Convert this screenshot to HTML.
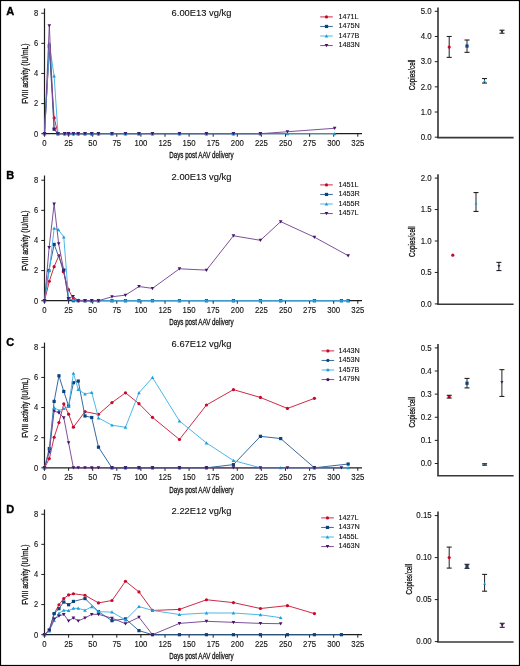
<!DOCTYPE html>
<html><head><meta charset="utf-8"><style>
html,body{margin:0;padding:0;background:#fff;}
body{width:520px;height:666px;position:relative;overflow:hidden;font-family:"Liberation Sans", sans-serif;}
svg{will-change:transform;font-family:"Liberation Sans", sans-serif;}
</style></head><body>
<svg width="520" height="666" viewBox="0 0 520 666" style="position:absolute;left:0;top:0">
<rect x="0" y="0" width="520" height="666" fill="#fff"/>
<text transform="translate(6.30,14.90)" font-weight="bold" font-size="11" fill="#000" stroke="#000" stroke-width="0.35">A</text>
<text transform="translate(171.60,15.90)" font-size="9.35" fill="#111" stroke="#111" stroke-width="0.12">6.00E13 vg/kg</text>
<line x1="44.5" y1="8.50" x2="44.5" y2="133.70" stroke="#1e1e1e" stroke-width="1.2"/>
<line x1="43.9" y1="133.70" x2="362.0" y2="133.70" stroke="#1e1e1e" stroke-width="1.3"/>
<line x1="41.3" y1="133.70" x2="44.5" y2="133.70" stroke="#1e1e1e" stroke-width="1"/>
<text transform="translate(38.30,136.60) scale(0.92,1)" text-anchor="end" font-size="8.2" fill="#111" stroke="#111" stroke-width="0.12">0</text>
<line x1="41.3" y1="103.58" x2="44.5" y2="103.58" stroke="#1e1e1e" stroke-width="1"/>
<text transform="translate(38.30,106.48) scale(0.92,1)" text-anchor="end" font-size="8.2" fill="#111" stroke="#111" stroke-width="0.12">2</text>
<line x1="41.3" y1="73.46" x2="44.5" y2="73.46" stroke="#1e1e1e" stroke-width="1"/>
<text transform="translate(38.30,76.36) scale(0.92,1)" text-anchor="end" font-size="8.2" fill="#111" stroke="#111" stroke-width="0.12">4</text>
<line x1="41.3" y1="43.34" x2="44.5" y2="43.34" stroke="#1e1e1e" stroke-width="1"/>
<text transform="translate(38.30,46.24) scale(0.92,1)" text-anchor="end" font-size="8.2" fill="#111" stroke="#111" stroke-width="0.12">6</text>
<line x1="41.3" y1="13.22" x2="44.5" y2="13.22" stroke="#1e1e1e" stroke-width="1"/>
<text transform="translate(38.30,16.12) scale(0.92,1)" text-anchor="end" font-size="8.2" fill="#111" stroke="#111" stroke-width="0.12">8</text>
<line x1="44.50" y1="133.70" x2="44.50" y2="136.70" stroke="#1e1e1e" stroke-width="1"/>
<text transform="translate(44.50,145.50) scale(0.94,1)" text-anchor="middle" font-size="8.3" fill="#111" stroke="#111" stroke-width="0.12">0</text>
<line x1="68.60" y1="133.70" x2="68.60" y2="136.70" stroke="#1e1e1e" stroke-width="1"/>
<text transform="translate(68.60,145.50) scale(0.94,1)" text-anchor="middle" font-size="8.3" fill="#111" stroke="#111" stroke-width="0.12">25</text>
<line x1="92.70" y1="133.70" x2="92.70" y2="136.70" stroke="#1e1e1e" stroke-width="1"/>
<text transform="translate(92.70,145.50) scale(0.94,1)" text-anchor="middle" font-size="8.3" fill="#111" stroke="#111" stroke-width="0.12">50</text>
<line x1="116.80" y1="133.70" x2="116.80" y2="136.70" stroke="#1e1e1e" stroke-width="1"/>
<text transform="translate(116.80,145.50) scale(0.94,1)" text-anchor="middle" font-size="8.3" fill="#111" stroke="#111" stroke-width="0.12">75</text>
<line x1="140.90" y1="133.70" x2="140.90" y2="136.70" stroke="#1e1e1e" stroke-width="1"/>
<text transform="translate(140.90,145.50) scale(0.94,1)" text-anchor="middle" font-size="8.3" fill="#111" stroke="#111" stroke-width="0.12">100</text>
<line x1="165.00" y1="133.70" x2="165.00" y2="136.70" stroke="#1e1e1e" stroke-width="1"/>
<text transform="translate(165.00,145.50) scale(0.94,1)" text-anchor="middle" font-size="8.3" fill="#111" stroke="#111" stroke-width="0.12">125</text>
<line x1="189.10" y1="133.70" x2="189.10" y2="136.70" stroke="#1e1e1e" stroke-width="1"/>
<text transform="translate(189.10,145.50) scale(0.94,1)" text-anchor="middle" font-size="8.3" fill="#111" stroke="#111" stroke-width="0.12">150</text>
<line x1="213.20" y1="133.70" x2="213.20" y2="136.70" stroke="#1e1e1e" stroke-width="1"/>
<text transform="translate(213.20,145.50) scale(0.94,1)" text-anchor="middle" font-size="8.3" fill="#111" stroke="#111" stroke-width="0.12">175</text>
<line x1="237.30" y1="133.70" x2="237.30" y2="136.70" stroke="#1e1e1e" stroke-width="1"/>
<text transform="translate(237.30,145.50) scale(0.94,1)" text-anchor="middle" font-size="8.3" fill="#111" stroke="#111" stroke-width="0.12">200</text>
<line x1="261.40" y1="133.70" x2="261.40" y2="136.70" stroke="#1e1e1e" stroke-width="1"/>
<text transform="translate(261.40,145.50) scale(0.94,1)" text-anchor="middle" font-size="8.3" fill="#111" stroke="#111" stroke-width="0.12">225</text>
<line x1="285.50" y1="133.70" x2="285.50" y2="136.70" stroke="#1e1e1e" stroke-width="1"/>
<text transform="translate(285.50,145.50) scale(0.94,1)" text-anchor="middle" font-size="8.3" fill="#111" stroke="#111" stroke-width="0.12">250</text>
<line x1="309.60" y1="133.70" x2="309.60" y2="136.70" stroke="#1e1e1e" stroke-width="1"/>
<text transform="translate(309.60,145.50) scale(0.94,1)" text-anchor="middle" font-size="8.3" fill="#111" stroke="#111" stroke-width="0.12">275</text>
<line x1="333.70" y1="133.70" x2="333.70" y2="136.70" stroke="#1e1e1e" stroke-width="1"/>
<text transform="translate(333.70,145.50) scale(0.94,1)" text-anchor="middle" font-size="8.3" fill="#111" stroke="#111" stroke-width="0.12">300</text>
<line x1="357.80" y1="133.70" x2="357.80" y2="136.70" stroke="#1e1e1e" stroke-width="1"/>
<text transform="translate(357.80,145.50) scale(0.94,1)" text-anchor="middle" font-size="8.3" fill="#111" stroke="#111" stroke-width="0.12">325</text>
<text transform="translate(27.80,103.70) rotate(-90) scale(0.73,1)" font-size="9.1" fill="#111" stroke="#111" stroke-width="0.3">FVIII activity (IU/mL)</text>
<text transform="translate(169.20,158.40) scale(0.686,1)" font-size="9.1" fill="#111" stroke="#111" stroke-width="0.3">Days post AAV delivery</text>
<path d="M44.50,133.70 L49.32,47.86 L54.14,117.89 L58.00,133.70 L64.74,133.70 L68.60,133.70 L73.42,133.70 L78.24,133.70 L84.99,133.70 L91.74,133.70 L98.48,133.70" fill="none" stroke="#cc1f3f" stroke-width="0.95" stroke-linejoin="round"/>
<circle cx="44.50" cy="133.70" r="1.60" fill="#c6082a"/>
<circle cx="49.32" cy="47.86" r="1.60" fill="#c6082a"/>
<circle cx="54.14" cy="117.89" r="1.60" fill="#c6082a"/>
<circle cx="58.00" cy="133.70" r="1.60" fill="#c6082a"/>
<circle cx="64.74" cy="133.70" r="1.60" fill="#c6082a"/>
<circle cx="68.60" cy="133.70" r="1.60" fill="#c6082a"/>
<circle cx="73.42" cy="133.70" r="1.60" fill="#c6082a"/>
<circle cx="78.24" cy="133.70" r="1.60" fill="#c6082a"/>
<circle cx="84.99" cy="133.70" r="1.60" fill="#c6082a"/>
<circle cx="91.74" cy="133.70" r="1.60" fill="#c6082a"/>
<circle cx="98.48" cy="133.70" r="1.60" fill="#c6082a"/>
<path d="M44.50,133.70 L49.32,45.75 L54.14,129.18 L58.00,133.70 L64.74,133.70 L68.60,133.70 L73.42,133.70 L78.24,133.70 L84.99,133.70 L91.74,133.70 L98.48,133.70 L111.98,133.70 L125.48,133.70 L138.97,133.70 L152.47,133.70 L179.46,133.70 L206.45,133.70 L233.44,133.70 L260.44,133.70" fill="none" stroke="#2c6299" stroke-width="0.95" stroke-linejoin="round"/>
<rect x="42.90" y="132.10" width="3.20" height="3.20" fill="#0a4280"/>
<rect x="47.72" y="44.15" width="3.20" height="3.20" fill="#0a4280"/>
<rect x="52.54" y="127.58" width="3.20" height="3.20" fill="#0a4280"/>
<rect x="56.40" y="132.10" width="3.20" height="3.20" fill="#0a4280"/>
<rect x="63.14" y="132.10" width="3.20" height="3.20" fill="#0a4280"/>
<rect x="67.00" y="132.10" width="3.20" height="3.20" fill="#0a4280"/>
<rect x="71.82" y="132.10" width="3.20" height="3.20" fill="#0a4280"/>
<rect x="76.64" y="132.10" width="3.20" height="3.20" fill="#0a4280"/>
<rect x="83.39" y="132.10" width="3.20" height="3.20" fill="#0a4280"/>
<rect x="90.14" y="132.10" width="3.20" height="3.20" fill="#0a4280"/>
<rect x="96.88" y="132.10" width="3.20" height="3.20" fill="#0a4280"/>
<rect x="110.38" y="132.10" width="3.20" height="3.20" fill="#0a4280"/>
<rect x="123.88" y="132.10" width="3.20" height="3.20" fill="#0a4280"/>
<rect x="137.37" y="132.10" width="3.20" height="3.20" fill="#0a4280"/>
<rect x="150.87" y="132.10" width="3.20" height="3.20" fill="#0a4280"/>
<rect x="177.86" y="132.10" width="3.20" height="3.20" fill="#0a4280"/>
<rect x="204.85" y="132.10" width="3.20" height="3.20" fill="#0a4280"/>
<rect x="231.84" y="132.10" width="3.20" height="3.20" fill="#0a4280"/>
<rect x="258.84" y="132.10" width="3.20" height="3.20" fill="#0a4280"/>
<path d="M44.50,133.70 L49.32,43.79 L54.14,76.17 L58.00,133.70 L64.74,133.70 L68.60,133.70 L73.42,133.70 L78.24,133.70 L84.99,133.70 L91.74,133.70 L98.48,133.70 L111.98,133.70 L125.48,133.70 L138.97,133.70 L152.47,133.70 L179.46,133.70 L206.45,133.70 L233.44,133.70 L260.44,133.70 L287.43,133.70 L334.66,133.70" fill="none" stroke="#45b3e6" stroke-width="0.95" stroke-linejoin="round"/>
<path d="M44.50,131.90L46.30,135.14L42.70,135.14Z" fill="#199fdf"/>
<path d="M49.32,41.99L51.12,45.23L47.52,45.23Z" fill="#199fdf"/>
<path d="M54.14,74.37L55.94,77.61L52.34,77.61Z" fill="#199fdf"/>
<path d="M58.00,131.90L59.80,135.14L56.20,135.14Z" fill="#199fdf"/>
<path d="M64.74,131.90L66.54,135.14L62.94,135.14Z" fill="#199fdf"/>
<path d="M68.60,131.90L70.40,135.14L66.80,135.14Z" fill="#199fdf"/>
<path d="M73.42,131.90L75.22,135.14L71.62,135.14Z" fill="#199fdf"/>
<path d="M78.24,131.90L80.04,135.14L76.44,135.14Z" fill="#199fdf"/>
<path d="M84.99,131.90L86.79,135.14L83.19,135.14Z" fill="#199fdf"/>
<path d="M91.74,131.90L93.54,135.14L89.94,135.14Z" fill="#199fdf"/>
<path d="M98.48,131.90L100.28,135.14L96.68,135.14Z" fill="#199fdf"/>
<path d="M111.98,131.90L113.78,135.14L110.18,135.14Z" fill="#199fdf"/>
<path d="M125.48,131.90L127.28,135.14L123.68,135.14Z" fill="#199fdf"/>
<path d="M138.97,131.90L140.77,135.14L137.17,135.14Z" fill="#199fdf"/>
<path d="M152.47,131.90L154.27,135.14L150.67,135.14Z" fill="#199fdf"/>
<path d="M179.46,131.90L181.26,135.14L177.66,135.14Z" fill="#199fdf"/>
<path d="M206.45,131.90L208.25,135.14L204.65,135.14Z" fill="#199fdf"/>
<path d="M233.44,131.90L235.24,135.14L231.64,135.14Z" fill="#199fdf"/>
<path d="M260.44,131.90L262.24,135.14L258.64,135.14Z" fill="#199fdf"/>
<path d="M287.43,131.90L289.23,135.14L285.63,135.14Z" fill="#199fdf"/>
<path d="M334.66,131.90L336.46,135.14L332.86,135.14Z" fill="#199fdf"/>
<path d="M44.50,133.70 L49.32,25.72 L54.14,129.18 L58.00,133.70 L64.74,133.70 L68.60,133.70 L73.42,133.70 L78.24,133.70 L84.99,133.70 L91.74,133.70 L98.48,133.70 L111.98,133.70 L125.48,133.70 L138.97,133.70 L152.47,133.70 L179.46,133.70 L206.45,133.70 L233.44,133.70 L260.44,133.70 L287.43,131.74 L334.66,128.28" fill="none" stroke="#774893" stroke-width="0.95" stroke-linejoin="round"/>
<path d="M44.50,135.50L46.30,132.26L42.70,132.26Z" fill="#48126b"/>
<path d="M49.32,27.52L51.12,24.28L47.52,24.28Z" fill="#48126b"/>
<path d="M54.14,130.98L55.94,127.74L52.34,127.74Z" fill="#48126b"/>
<path d="M58.00,135.50L59.80,132.26L56.20,132.26Z" fill="#48126b"/>
<path d="M64.74,135.50L66.54,132.26L62.94,132.26Z" fill="#48126b"/>
<path d="M68.60,135.50L70.40,132.26L66.80,132.26Z" fill="#48126b"/>
<path d="M73.42,135.50L75.22,132.26L71.62,132.26Z" fill="#48126b"/>
<path d="M78.24,135.50L80.04,132.26L76.44,132.26Z" fill="#48126b"/>
<path d="M84.99,135.50L86.79,132.26L83.19,132.26Z" fill="#48126b"/>
<path d="M91.74,135.50L93.54,132.26L89.94,132.26Z" fill="#48126b"/>
<path d="M98.48,135.50L100.28,132.26L96.68,132.26Z" fill="#48126b"/>
<path d="M111.98,135.50L113.78,132.26L110.18,132.26Z" fill="#48126b"/>
<path d="M125.48,135.50L127.28,132.26L123.68,132.26Z" fill="#48126b"/>
<path d="M138.97,135.50L140.77,132.26L137.17,132.26Z" fill="#48126b"/>
<path d="M152.47,135.50L154.27,132.26L150.67,132.26Z" fill="#48126b"/>
<path d="M179.46,135.50L181.26,132.26L177.66,132.26Z" fill="#48126b"/>
<path d="M206.45,135.50L208.25,132.26L204.65,132.26Z" fill="#48126b"/>
<path d="M233.44,135.50L235.24,132.26L231.64,132.26Z" fill="#48126b"/>
<path d="M260.44,135.50L262.24,132.26L258.64,132.26Z" fill="#48126b"/>
<path d="M287.43,133.54L289.23,130.30L285.63,130.30Z" fill="#48126b"/>
<path d="M334.66,130.08L336.46,126.84L332.86,126.84Z" fill="#48126b"/>
<line x1="320.20" y1="16.90" x2="332.80" y2="16.90" stroke="#cc1f3f" stroke-width="0.95"/>
<circle cx="326.50" cy="16.90" r="1.60" fill="#c6082a"/>
<text transform="translate(338.40,18.60) scale(0.92,1)" font-size="7.9" fill="#111" stroke="#111" stroke-width="0.12">1471L</text>
<line x1="320.20" y1="26.45" x2="332.80" y2="26.45" stroke="#2c6299" stroke-width="0.95"/>
<rect x="324.90" y="24.85" width="3.20" height="3.20" fill="#0a4280"/>
<text transform="translate(338.40,28.15) scale(0.92,1)" font-size="7.9" fill="#111" stroke="#111" stroke-width="0.12">1475N</text>
<line x1="320.20" y1="36.00" x2="332.80" y2="36.00" stroke="#45b3e6" stroke-width="0.95"/>
<path d="M326.50,34.20L328.30,37.44L324.70,37.44Z" fill="#199fdf"/>
<text transform="translate(338.40,37.70) scale(0.92,1)" font-size="7.9" fill="#111" stroke="#111" stroke-width="0.12">1477B</text>
<line x1="320.20" y1="45.55" x2="332.80" y2="45.55" stroke="#774893" stroke-width="0.95"/>
<path d="M326.50,47.35L328.30,44.11L324.70,44.11Z" fill="#48126b"/>
<text transform="translate(338.40,47.25) scale(0.92,1)" font-size="7.9" fill="#111" stroke="#111" stroke-width="0.12">1483N</text>
<line x1="438" y1="7.50" x2="438" y2="137.60" stroke="#333" stroke-width="1.6"/>
<line x1="437.2" y1="137.60" x2="513.6" y2="137.60" stroke="#383838" stroke-width="1.6"/>
<line x1="434.8" y1="137.20" x2="438" y2="137.20" stroke="#1e1e1e" stroke-width="1"/>
<text transform="translate(431.70,139.90) scale(0.94,1)" text-anchor="end" font-size="8.4" fill="#111" stroke="#111" stroke-width="0.12">0.0</text>
<line x1="434.8" y1="112.02" x2="438" y2="112.02" stroke="#1e1e1e" stroke-width="1"/>
<text transform="translate(431.70,114.72) scale(0.94,1)" text-anchor="end" font-size="8.4" fill="#111" stroke="#111" stroke-width="0.12">1.0</text>
<line x1="434.8" y1="86.84" x2="438" y2="86.84" stroke="#1e1e1e" stroke-width="1"/>
<text transform="translate(431.70,89.54) scale(0.94,1)" text-anchor="end" font-size="8.4" fill="#111" stroke="#111" stroke-width="0.12">2.0</text>
<line x1="434.8" y1="61.66" x2="438" y2="61.66" stroke="#1e1e1e" stroke-width="1"/>
<text transform="translate(431.70,64.36) scale(0.94,1)" text-anchor="end" font-size="8.4" fill="#111" stroke="#111" stroke-width="0.12">3.0</text>
<line x1="434.8" y1="36.48" x2="438" y2="36.48" stroke="#1e1e1e" stroke-width="1"/>
<text transform="translate(431.70,39.18) scale(0.94,1)" text-anchor="end" font-size="8.4" fill="#111" stroke="#111" stroke-width="0.12">4.0</text>
<line x1="434.8" y1="11.30" x2="438" y2="11.30" stroke="#1e1e1e" stroke-width="1"/>
<text transform="translate(431.70,14.00) scale(0.94,1)" text-anchor="end" font-size="8.4" fill="#111" stroke="#111" stroke-width="0.12">5.0</text>
<text transform="translate(415.00,90.15) rotate(-90) scale(0.705,1)" font-size="8.9" fill="#111" stroke="#111" stroke-width="0.3">Copies/cell</text>
<line x1="449.20" y1="57.38" x2="449.20" y2="36.48" stroke="#222" stroke-width="1"/>
<circle cx="449.20" cy="47.06" r="1.60" fill="#c6082a"/>
<line x1="446.70" y1="57.38" x2="451.70" y2="57.38" stroke="#222" stroke-width="1.1"/>
<line x1="446.70" y1="36.48" x2="451.70" y2="36.48" stroke="#222" stroke-width="1.1"/>
<line x1="467.00" y1="52.34" x2="467.00" y2="40.01" stroke="#222" stroke-width="1"/>
<rect x="465.40" y="44.45" width="3.20" height="3.20" fill="#0a4280"/>
<line x1="464.50" y1="52.34" x2="469.50" y2="52.34" stroke="#222" stroke-width="1.1"/>
<line x1="464.50" y1="40.01" x2="469.50" y2="40.01" stroke="#222" stroke-width="1.1"/>
<line x1="484.50" y1="83.06" x2="484.50" y2="78.53" stroke="#222" stroke-width="1"/>
<path d="M484.50,79.52L486.03,82.27L482.97,82.27Z" fill="#199fdf"/>
<line x1="482.00" y1="83.06" x2="487.00" y2="83.06" stroke="#222" stroke-width="1.1"/>
<line x1="482.00" y1="78.53" x2="487.00" y2="78.53" stroke="#222" stroke-width="1.1"/>
<line x1="502.00" y1="33.21" x2="502.00" y2="30.19" stroke="#222" stroke-width="1"/>
<path d="M502.00,33.23L503.53,30.47L500.47,30.47Z" fill="#48126b"/>
<line x1="499.50" y1="33.21" x2="504.50" y2="33.21" stroke="#222" stroke-width="1.1"/>
<line x1="499.50" y1="30.19" x2="504.50" y2="30.19" stroke="#222" stroke-width="1.1"/>
<text transform="translate(6.30,179.20)" font-weight="bold" font-size="11" fill="#000" stroke="#000" stroke-width="0.35">B</text>
<text transform="translate(171.60,179.80)" font-size="9.35" fill="#111" stroke="#111" stroke-width="0.12">2.00E13 vg/kg</text>
<line x1="44.5" y1="175.50" x2="44.5" y2="300.70" stroke="#1e1e1e" stroke-width="1.2"/>
<line x1="43.9" y1="300.70" x2="362.0" y2="300.70" stroke="#1e1e1e" stroke-width="1.3"/>
<line x1="41.3" y1="300.70" x2="44.5" y2="300.70" stroke="#1e1e1e" stroke-width="1"/>
<text transform="translate(38.30,303.60) scale(0.92,1)" text-anchor="end" font-size="8.2" fill="#111" stroke="#111" stroke-width="0.12">0</text>
<line x1="41.3" y1="270.58" x2="44.5" y2="270.58" stroke="#1e1e1e" stroke-width="1"/>
<text transform="translate(38.30,273.48) scale(0.92,1)" text-anchor="end" font-size="8.2" fill="#111" stroke="#111" stroke-width="0.12">2</text>
<line x1="41.3" y1="240.46" x2="44.5" y2="240.46" stroke="#1e1e1e" stroke-width="1"/>
<text transform="translate(38.30,243.36) scale(0.92,1)" text-anchor="end" font-size="8.2" fill="#111" stroke="#111" stroke-width="0.12">4</text>
<line x1="41.3" y1="210.34" x2="44.5" y2="210.34" stroke="#1e1e1e" stroke-width="1"/>
<text transform="translate(38.30,213.24) scale(0.92,1)" text-anchor="end" font-size="8.2" fill="#111" stroke="#111" stroke-width="0.12">6</text>
<line x1="41.3" y1="180.22" x2="44.5" y2="180.22" stroke="#1e1e1e" stroke-width="1"/>
<text transform="translate(38.30,183.12) scale(0.92,1)" text-anchor="end" font-size="8.2" fill="#111" stroke="#111" stroke-width="0.12">8</text>
<line x1="44.50" y1="300.70" x2="44.50" y2="303.70" stroke="#1e1e1e" stroke-width="1"/>
<text transform="translate(44.50,312.50) scale(0.94,1)" text-anchor="middle" font-size="8.3" fill="#111" stroke="#111" stroke-width="0.12">0</text>
<line x1="68.60" y1="300.70" x2="68.60" y2="303.70" stroke="#1e1e1e" stroke-width="1"/>
<text transform="translate(68.60,312.50) scale(0.94,1)" text-anchor="middle" font-size="8.3" fill="#111" stroke="#111" stroke-width="0.12">25</text>
<line x1="92.70" y1="300.70" x2="92.70" y2="303.70" stroke="#1e1e1e" stroke-width="1"/>
<text transform="translate(92.70,312.50) scale(0.94,1)" text-anchor="middle" font-size="8.3" fill="#111" stroke="#111" stroke-width="0.12">50</text>
<line x1="116.80" y1="300.70" x2="116.80" y2="303.70" stroke="#1e1e1e" stroke-width="1"/>
<text transform="translate(116.80,312.50) scale(0.94,1)" text-anchor="middle" font-size="8.3" fill="#111" stroke="#111" stroke-width="0.12">75</text>
<line x1="140.90" y1="300.70" x2="140.90" y2="303.70" stroke="#1e1e1e" stroke-width="1"/>
<text transform="translate(140.90,312.50) scale(0.94,1)" text-anchor="middle" font-size="8.3" fill="#111" stroke="#111" stroke-width="0.12">100</text>
<line x1="165.00" y1="300.70" x2="165.00" y2="303.70" stroke="#1e1e1e" stroke-width="1"/>
<text transform="translate(165.00,312.50) scale(0.94,1)" text-anchor="middle" font-size="8.3" fill="#111" stroke="#111" stroke-width="0.12">125</text>
<line x1="189.10" y1="300.70" x2="189.10" y2="303.70" stroke="#1e1e1e" stroke-width="1"/>
<text transform="translate(189.10,312.50) scale(0.94,1)" text-anchor="middle" font-size="8.3" fill="#111" stroke="#111" stroke-width="0.12">150</text>
<line x1="213.20" y1="300.70" x2="213.20" y2="303.70" stroke="#1e1e1e" stroke-width="1"/>
<text transform="translate(213.20,312.50) scale(0.94,1)" text-anchor="middle" font-size="8.3" fill="#111" stroke="#111" stroke-width="0.12">175</text>
<line x1="237.30" y1="300.70" x2="237.30" y2="303.70" stroke="#1e1e1e" stroke-width="1"/>
<text transform="translate(237.30,312.50) scale(0.94,1)" text-anchor="middle" font-size="8.3" fill="#111" stroke="#111" stroke-width="0.12">200</text>
<line x1="261.40" y1="300.70" x2="261.40" y2="303.70" stroke="#1e1e1e" stroke-width="1"/>
<text transform="translate(261.40,312.50) scale(0.94,1)" text-anchor="middle" font-size="8.3" fill="#111" stroke="#111" stroke-width="0.12">225</text>
<line x1="285.50" y1="300.70" x2="285.50" y2="303.70" stroke="#1e1e1e" stroke-width="1"/>
<text transform="translate(285.50,312.50) scale(0.94,1)" text-anchor="middle" font-size="8.3" fill="#111" stroke="#111" stroke-width="0.12">250</text>
<line x1="309.60" y1="300.70" x2="309.60" y2="303.70" stroke="#1e1e1e" stroke-width="1"/>
<text transform="translate(309.60,312.50) scale(0.94,1)" text-anchor="middle" font-size="8.3" fill="#111" stroke="#111" stroke-width="0.12">275</text>
<line x1="333.70" y1="300.70" x2="333.70" y2="303.70" stroke="#1e1e1e" stroke-width="1"/>
<text transform="translate(333.70,312.50) scale(0.94,1)" text-anchor="middle" font-size="8.3" fill="#111" stroke="#111" stroke-width="0.12">300</text>
<line x1="357.80" y1="300.70" x2="357.80" y2="303.70" stroke="#1e1e1e" stroke-width="1"/>
<text transform="translate(357.80,312.50) scale(0.94,1)" text-anchor="middle" font-size="8.3" fill="#111" stroke="#111" stroke-width="0.12">325</text>
<text transform="translate(27.80,270.70) rotate(-90) scale(0.73,1)" font-size="9.1" fill="#111" stroke="#111" stroke-width="0.3">FVIII activity (IU/mL)</text>
<text transform="translate(169.20,325.40) scale(0.686,1)" font-size="9.1" fill="#111" stroke="#111" stroke-width="0.3">Days post AAV delivery</text>
<path d="M44.50,300.70 L49.32,281.27 L54.14,266.66 L58.96,255.52 L63.30,271.63 L68.60,289.71 L73.42,299.19 L78.24,300.70 L84.99,300.70 L91.74,300.70 L98.48,300.70" fill="none" stroke="#cc1f3f" stroke-width="0.95" stroke-linejoin="round"/>
<circle cx="44.50" cy="300.70" r="1.60" fill="#c6082a"/>
<circle cx="49.32" cy="281.27" r="1.60" fill="#c6082a"/>
<circle cx="54.14" cy="266.66" r="1.60" fill="#c6082a"/>
<circle cx="58.96" cy="255.52" r="1.60" fill="#c6082a"/>
<circle cx="63.30" cy="271.63" r="1.60" fill="#c6082a"/>
<circle cx="68.60" cy="289.71" r="1.60" fill="#c6082a"/>
<circle cx="73.42" cy="299.19" r="1.60" fill="#c6082a"/>
<circle cx="78.24" cy="300.70" r="1.60" fill="#c6082a"/>
<circle cx="84.99" cy="300.70" r="1.60" fill="#c6082a"/>
<circle cx="91.74" cy="300.70" r="1.60" fill="#c6082a"/>
<circle cx="98.48" cy="300.70" r="1.60" fill="#c6082a"/>
<path d="M44.50,300.70 L48.84,270.58 L54.14,244.38 L63.78,269.98 L68.60,299.19 L73.42,300.70 L78.24,300.70 L84.99,300.70 L91.74,300.70 L98.48,300.70 L111.98,300.70 L125.48,300.70 L138.97,300.70 L152.47,300.70 L179.46,300.70 L206.45,300.70 L233.44,300.70 L260.44,300.70 L280.68,300.70 L314.42,300.70 L341.41,300.70 L348.16,300.70" fill="none" stroke="#2c6299" stroke-width="0.95" stroke-linejoin="round"/>
<rect x="42.90" y="299.10" width="3.20" height="3.20" fill="#0a4280"/>
<rect x="47.24" y="268.98" width="3.20" height="3.20" fill="#0a4280"/>
<rect x="52.54" y="242.78" width="3.20" height="3.20" fill="#0a4280"/>
<rect x="62.18" y="268.38" width="3.20" height="3.20" fill="#0a4280"/>
<rect x="67.00" y="297.59" width="3.20" height="3.20" fill="#0a4280"/>
<rect x="71.82" y="299.10" width="3.20" height="3.20" fill="#0a4280"/>
<rect x="76.64" y="299.10" width="3.20" height="3.20" fill="#0a4280"/>
<rect x="83.39" y="299.10" width="3.20" height="3.20" fill="#0a4280"/>
<rect x="90.14" y="299.10" width="3.20" height="3.20" fill="#0a4280"/>
<rect x="96.88" y="299.10" width="3.20" height="3.20" fill="#0a4280"/>
<rect x="110.38" y="299.10" width="3.20" height="3.20" fill="#0a4280"/>
<rect x="123.88" y="299.10" width="3.20" height="3.20" fill="#0a4280"/>
<rect x="137.37" y="299.10" width="3.20" height="3.20" fill="#0a4280"/>
<rect x="150.87" y="299.10" width="3.20" height="3.20" fill="#0a4280"/>
<rect x="177.86" y="299.10" width="3.20" height="3.20" fill="#0a4280"/>
<rect x="204.85" y="299.10" width="3.20" height="3.20" fill="#0a4280"/>
<rect x="231.84" y="299.10" width="3.20" height="3.20" fill="#0a4280"/>
<rect x="258.84" y="299.10" width="3.20" height="3.20" fill="#0a4280"/>
<rect x="279.08" y="299.10" width="3.20" height="3.20" fill="#0a4280"/>
<rect x="312.82" y="299.10" width="3.20" height="3.20" fill="#0a4280"/>
<rect x="339.81" y="299.10" width="3.20" height="3.20" fill="#0a4280"/>
<rect x="346.56" y="299.10" width="3.20" height="3.20" fill="#0a4280"/>
<path d="M44.50,300.70 L49.32,270.58 L54.14,228.41 L58.48,229.77 L63.78,237.00 L68.60,298.44 L73.42,299.95 L78.24,299.95 L84.99,300.70 L91.74,300.70 L98.48,300.70 L111.98,300.70 L125.48,300.70 L138.97,300.70 L152.47,300.70 L179.46,300.70 L206.45,300.70 L233.44,300.70 L260.44,300.70 L280.68,300.70 L314.42,300.70 L341.41,300.70 L348.16,300.70" fill="none" stroke="#45b3e6" stroke-width="0.95" stroke-linejoin="round"/>
<path d="M44.50,298.90L46.30,302.14L42.70,302.14Z" fill="#199fdf"/>
<path d="M49.32,268.78L51.12,272.02L47.52,272.02Z" fill="#199fdf"/>
<path d="M54.14,226.61L55.94,229.85L52.34,229.85Z" fill="#199fdf"/>
<path d="M58.48,227.97L60.28,231.21L56.68,231.21Z" fill="#199fdf"/>
<path d="M63.78,235.20L65.58,238.44L61.98,238.44Z" fill="#199fdf"/>
<path d="M68.60,296.64L70.40,299.88L66.80,299.88Z" fill="#199fdf"/>
<path d="M73.42,298.15L75.22,301.39L71.62,301.39Z" fill="#199fdf"/>
<path d="M78.24,298.15L80.04,301.39L76.44,301.39Z" fill="#199fdf"/>
<path d="M84.99,298.90L86.79,302.14L83.19,302.14Z" fill="#199fdf"/>
<path d="M91.74,298.90L93.54,302.14L89.94,302.14Z" fill="#199fdf"/>
<path d="M98.48,298.90L100.28,302.14L96.68,302.14Z" fill="#199fdf"/>
<path d="M111.98,298.90L113.78,302.14L110.18,302.14Z" fill="#199fdf"/>
<path d="M125.48,298.90L127.28,302.14L123.68,302.14Z" fill="#199fdf"/>
<path d="M138.97,298.90L140.77,302.14L137.17,302.14Z" fill="#199fdf"/>
<path d="M152.47,298.90L154.27,302.14L150.67,302.14Z" fill="#199fdf"/>
<path d="M179.46,298.90L181.26,302.14L177.66,302.14Z" fill="#199fdf"/>
<path d="M206.45,298.90L208.25,302.14L204.65,302.14Z" fill="#199fdf"/>
<path d="M233.44,298.90L235.24,302.14L231.64,302.14Z" fill="#199fdf"/>
<path d="M260.44,298.90L262.24,302.14L258.64,302.14Z" fill="#199fdf"/>
<path d="M280.68,298.90L282.48,302.14L278.88,302.14Z" fill="#199fdf"/>
<path d="M314.42,298.90L316.22,302.14L312.62,302.14Z" fill="#199fdf"/>
<path d="M341.41,298.90L343.21,302.14L339.61,302.14Z" fill="#199fdf"/>
<path d="M348.16,298.90L349.96,302.14L346.36,302.14Z" fill="#199fdf"/>
<path d="M44.50,300.70 L49.13,247.39 L54.14,204.01 L58.67,243.77 L63.78,270.58 L68.41,298.44 L73.13,296.48 L78.24,300.70 L84.99,300.70 L91.74,300.70 L98.48,300.70 L111.98,296.78 L125.48,295.13 L138.97,286.54 L152.47,288.35 L179.46,268.77 L206.45,270.13 L233.44,235.79 L260.44,240.31 L280.68,221.63 L314.42,237.15 L348.16,255.67" fill="none" stroke="#774893" stroke-width="0.95" stroke-linejoin="round"/>
<path d="M44.50,302.50L46.30,299.26L42.70,299.26Z" fill="#48126b"/>
<path d="M49.13,249.19L50.93,245.95L47.33,245.95Z" fill="#48126b"/>
<path d="M54.14,205.81L55.94,202.57L52.34,202.57Z" fill="#48126b"/>
<path d="M58.67,245.57L60.47,242.33L56.87,242.33Z" fill="#48126b"/>
<path d="M63.78,272.38L65.58,269.14L61.98,269.14Z" fill="#48126b"/>
<path d="M68.41,300.24L70.21,297.00L66.61,297.00Z" fill="#48126b"/>
<path d="M73.13,298.28L74.93,295.04L71.33,295.04Z" fill="#48126b"/>
<path d="M78.24,302.50L80.04,299.26L76.44,299.26Z" fill="#48126b"/>
<path d="M84.99,302.50L86.79,299.26L83.19,299.26Z" fill="#48126b"/>
<path d="M91.74,302.50L93.54,299.26L89.94,299.26Z" fill="#48126b"/>
<path d="M98.48,302.50L100.28,299.26L96.68,299.26Z" fill="#48126b"/>
<path d="M111.98,298.58L113.78,295.34L110.18,295.34Z" fill="#48126b"/>
<path d="M125.48,296.93L127.28,293.69L123.68,293.69Z" fill="#48126b"/>
<path d="M138.97,288.34L140.77,285.10L137.17,285.10Z" fill="#48126b"/>
<path d="M152.47,290.15L154.27,286.91L150.67,286.91Z" fill="#48126b"/>
<path d="M179.46,270.57L181.26,267.33L177.66,267.33Z" fill="#48126b"/>
<path d="M206.45,271.93L208.25,268.69L204.65,268.69Z" fill="#48126b"/>
<path d="M233.44,237.59L235.24,234.35L231.64,234.35Z" fill="#48126b"/>
<path d="M260.44,242.11L262.24,238.87L258.64,238.87Z" fill="#48126b"/>
<path d="M280.68,223.44L282.48,220.19L278.88,220.19Z" fill="#48126b"/>
<path d="M314.42,238.95L316.22,235.71L312.62,235.71Z" fill="#48126b"/>
<path d="M348.16,257.47L349.96,254.23L346.36,254.23Z" fill="#48126b"/>
<line x1="320.20" y1="184.90" x2="332.80" y2="184.90" stroke="#cc1f3f" stroke-width="0.95"/>
<circle cx="326.50" cy="184.90" r="1.60" fill="#c6082a"/>
<text transform="translate(338.40,186.60) scale(0.92,1)" font-size="7.9" fill="#111" stroke="#111" stroke-width="0.12">1451L</text>
<line x1="320.20" y1="194.45" x2="332.80" y2="194.45" stroke="#2c6299" stroke-width="0.95"/>
<rect x="324.90" y="192.85" width="3.20" height="3.20" fill="#0a4280"/>
<text transform="translate(338.40,196.15) scale(0.92,1)" font-size="7.9" fill="#111" stroke="#111" stroke-width="0.12">1453R</text>
<line x1="320.20" y1="204.00" x2="332.80" y2="204.00" stroke="#45b3e6" stroke-width="0.95"/>
<path d="M326.50,202.20L328.30,205.44L324.70,205.44Z" fill="#199fdf"/>
<text transform="translate(338.40,205.70) scale(0.92,1)" font-size="7.9" fill="#111" stroke="#111" stroke-width="0.12">1455R</text>
<line x1="320.20" y1="213.55" x2="332.80" y2="213.55" stroke="#774893" stroke-width="0.95"/>
<path d="M326.50,215.35L328.30,212.11L324.70,212.11Z" fill="#48126b"/>
<text transform="translate(338.40,215.25) scale(0.92,1)" font-size="7.9" fill="#111" stroke="#111" stroke-width="0.12">1457L</text>
<line x1="438" y1="174.30" x2="438" y2="304.30" stroke="#333" stroke-width="1.6"/>
<line x1="437.2" y1="304.30" x2="513.6" y2="304.30" stroke="#383838" stroke-width="1.6"/>
<line x1="434.8" y1="303.90" x2="438" y2="303.90" stroke="#1e1e1e" stroke-width="1"/>
<text transform="translate(431.70,306.60) scale(0.94,1)" text-anchor="end" font-size="8.4" fill="#111" stroke="#111" stroke-width="0.12">0.0</text>
<line x1="434.8" y1="272.45" x2="438" y2="272.45" stroke="#1e1e1e" stroke-width="1"/>
<text transform="translate(431.70,275.15) scale(0.94,1)" text-anchor="end" font-size="8.4" fill="#111" stroke="#111" stroke-width="0.12">0.5</text>
<line x1="434.8" y1="241.00" x2="438" y2="241.00" stroke="#1e1e1e" stroke-width="1"/>
<text transform="translate(431.70,243.70) scale(0.94,1)" text-anchor="end" font-size="8.4" fill="#111" stroke="#111" stroke-width="0.12">1.0</text>
<line x1="434.8" y1="209.55" x2="438" y2="209.55" stroke="#1e1e1e" stroke-width="1"/>
<text transform="translate(431.70,212.25) scale(0.94,1)" text-anchor="end" font-size="8.4" fill="#111" stroke="#111" stroke-width="0.12">1.5</text>
<line x1="434.8" y1="178.10" x2="438" y2="178.10" stroke="#1e1e1e" stroke-width="1"/>
<text transform="translate(431.70,180.80) scale(0.94,1)" text-anchor="end" font-size="8.4" fill="#111" stroke="#111" stroke-width="0.12">2.0</text>
<text transform="translate(415.00,256.90) rotate(-90) scale(0.705,1)" font-size="8.9" fill="#111" stroke="#111" stroke-width="0.3">Copies/cell</text>
<circle cx="452.80" cy="255.22" r="1.60" fill="#c6082a"/>
<line x1="476.00" y1="211.44" x2="476.00" y2="192.57" stroke="#222" stroke-width="1"/>
<path d="M476.00,201.73L477.53,204.48L474.47,204.48Z" fill="#199fdf"/>
<line x1="473.50" y1="211.44" x2="478.50" y2="211.44" stroke="#222" stroke-width="1.1"/>
<line x1="473.50" y1="192.57" x2="478.50" y2="192.57" stroke="#222" stroke-width="1.1"/>
<line x1="498.90" y1="270.56" x2="498.90" y2="262.39" stroke="#222" stroke-width="1"/>
<path d="M498.90,267.69L500.43,264.94L497.37,264.94Z" fill="#48126b"/>
<line x1="496.40" y1="270.56" x2="501.40" y2="270.56" stroke="#222" stroke-width="1.1"/>
<line x1="496.40" y1="262.39" x2="501.40" y2="262.39" stroke="#222" stroke-width="1.1"/>
<text transform="translate(6.30,346.20)" font-weight="bold" font-size="11" fill="#000" stroke="#000" stroke-width="0.35">C</text>
<text transform="translate(171.60,347.10)" font-size="9.35" fill="#111" stroke="#111" stroke-width="0.12">6.67E12 vg/kg</text>
<line x1="44.5" y1="342.60" x2="44.5" y2="467.80" stroke="#1e1e1e" stroke-width="1.2"/>
<line x1="43.9" y1="467.80" x2="362.0" y2="467.80" stroke="#1e1e1e" stroke-width="1.3"/>
<line x1="41.3" y1="467.80" x2="44.5" y2="467.80" stroke="#1e1e1e" stroke-width="1"/>
<text transform="translate(38.30,470.70) scale(0.92,1)" text-anchor="end" font-size="8.2" fill="#111" stroke="#111" stroke-width="0.12">0</text>
<line x1="41.3" y1="437.68" x2="44.5" y2="437.68" stroke="#1e1e1e" stroke-width="1"/>
<text transform="translate(38.30,440.58) scale(0.92,1)" text-anchor="end" font-size="8.2" fill="#111" stroke="#111" stroke-width="0.12">2</text>
<line x1="41.3" y1="407.56" x2="44.5" y2="407.56" stroke="#1e1e1e" stroke-width="1"/>
<text transform="translate(38.30,410.46) scale(0.92,1)" text-anchor="end" font-size="8.2" fill="#111" stroke="#111" stroke-width="0.12">4</text>
<line x1="41.3" y1="377.44" x2="44.5" y2="377.44" stroke="#1e1e1e" stroke-width="1"/>
<text transform="translate(38.30,380.34) scale(0.92,1)" text-anchor="end" font-size="8.2" fill="#111" stroke="#111" stroke-width="0.12">6</text>
<line x1="41.3" y1="347.32" x2="44.5" y2="347.32" stroke="#1e1e1e" stroke-width="1"/>
<text transform="translate(38.30,350.22) scale(0.92,1)" text-anchor="end" font-size="8.2" fill="#111" stroke="#111" stroke-width="0.12">8</text>
<line x1="44.50" y1="467.80" x2="44.50" y2="470.80" stroke="#1e1e1e" stroke-width="1"/>
<text transform="translate(44.50,479.60) scale(0.94,1)" text-anchor="middle" font-size="8.3" fill="#111" stroke="#111" stroke-width="0.12">0</text>
<line x1="68.60" y1="467.80" x2="68.60" y2="470.80" stroke="#1e1e1e" stroke-width="1"/>
<text transform="translate(68.60,479.60) scale(0.94,1)" text-anchor="middle" font-size="8.3" fill="#111" stroke="#111" stroke-width="0.12">25</text>
<line x1="92.70" y1="467.80" x2="92.70" y2="470.80" stroke="#1e1e1e" stroke-width="1"/>
<text transform="translate(92.70,479.60) scale(0.94,1)" text-anchor="middle" font-size="8.3" fill="#111" stroke="#111" stroke-width="0.12">50</text>
<line x1="116.80" y1="467.80" x2="116.80" y2="470.80" stroke="#1e1e1e" stroke-width="1"/>
<text transform="translate(116.80,479.60) scale(0.94,1)" text-anchor="middle" font-size="8.3" fill="#111" stroke="#111" stroke-width="0.12">75</text>
<line x1="140.90" y1="467.80" x2="140.90" y2="470.80" stroke="#1e1e1e" stroke-width="1"/>
<text transform="translate(140.90,479.60) scale(0.94,1)" text-anchor="middle" font-size="8.3" fill="#111" stroke="#111" stroke-width="0.12">100</text>
<line x1="165.00" y1="467.80" x2="165.00" y2="470.80" stroke="#1e1e1e" stroke-width="1"/>
<text transform="translate(165.00,479.60) scale(0.94,1)" text-anchor="middle" font-size="8.3" fill="#111" stroke="#111" stroke-width="0.12">125</text>
<line x1="189.10" y1="467.80" x2="189.10" y2="470.80" stroke="#1e1e1e" stroke-width="1"/>
<text transform="translate(189.10,479.60) scale(0.94,1)" text-anchor="middle" font-size="8.3" fill="#111" stroke="#111" stroke-width="0.12">150</text>
<line x1="213.20" y1="467.80" x2="213.20" y2="470.80" stroke="#1e1e1e" stroke-width="1"/>
<text transform="translate(213.20,479.60) scale(0.94,1)" text-anchor="middle" font-size="8.3" fill="#111" stroke="#111" stroke-width="0.12">175</text>
<line x1="237.30" y1="467.80" x2="237.30" y2="470.80" stroke="#1e1e1e" stroke-width="1"/>
<text transform="translate(237.30,479.60) scale(0.94,1)" text-anchor="middle" font-size="8.3" fill="#111" stroke="#111" stroke-width="0.12">200</text>
<line x1="261.40" y1="467.80" x2="261.40" y2="470.80" stroke="#1e1e1e" stroke-width="1"/>
<text transform="translate(261.40,479.60) scale(0.94,1)" text-anchor="middle" font-size="8.3" fill="#111" stroke="#111" stroke-width="0.12">225</text>
<line x1="285.50" y1="467.80" x2="285.50" y2="470.80" stroke="#1e1e1e" stroke-width="1"/>
<text transform="translate(285.50,479.60) scale(0.94,1)" text-anchor="middle" font-size="8.3" fill="#111" stroke="#111" stroke-width="0.12">250</text>
<line x1="309.60" y1="467.80" x2="309.60" y2="470.80" stroke="#1e1e1e" stroke-width="1"/>
<text transform="translate(309.60,479.60) scale(0.94,1)" text-anchor="middle" font-size="8.3" fill="#111" stroke="#111" stroke-width="0.12">275</text>
<line x1="333.70" y1="467.80" x2="333.70" y2="470.80" stroke="#1e1e1e" stroke-width="1"/>
<text transform="translate(333.70,479.60) scale(0.94,1)" text-anchor="middle" font-size="8.3" fill="#111" stroke="#111" stroke-width="0.12">300</text>
<line x1="357.80" y1="467.80" x2="357.80" y2="470.80" stroke="#1e1e1e" stroke-width="1"/>
<text transform="translate(357.80,479.60) scale(0.94,1)" text-anchor="middle" font-size="8.3" fill="#111" stroke="#111" stroke-width="0.12">325</text>
<text transform="translate(27.80,437.80) rotate(-90) scale(0.73,1)" font-size="9.1" fill="#111" stroke="#111" stroke-width="0.3">FVIII activity (IU/mL)</text>
<text transform="translate(169.20,492.50) scale(0.686,1)" font-size="9.1" fill="#111" stroke="#111" stroke-width="0.3">Days post AAV delivery</text>
<path d="M44.50,467.80 L49.32,458.61 L54.14,437.23 L58.96,422.62 L63.78,403.80 L68.60,414.19 L73.42,427.14 L84.99,411.63 L98.48,414.34 L111.98,402.59 L125.48,392.80 L138.97,403.64 L152.47,417.35 L179.46,439.49 L206.45,405.00 L233.44,389.64 L260.44,397.47 L287.43,408.46 L314.42,398.37" fill="none" stroke="#cc1f3f" stroke-width="0.95" stroke-linejoin="round"/>
<circle cx="44.50" cy="467.80" r="1.60" fill="#c6082a"/>
<circle cx="49.32" cy="458.61" r="1.60" fill="#c6082a"/>
<circle cx="54.14" cy="437.23" r="1.60" fill="#c6082a"/>
<circle cx="58.96" cy="422.62" r="1.60" fill="#c6082a"/>
<circle cx="63.78" cy="403.80" r="1.60" fill="#c6082a"/>
<circle cx="68.60" cy="414.19" r="1.60" fill="#c6082a"/>
<circle cx="73.42" cy="427.14" r="1.60" fill="#c6082a"/>
<circle cx="84.99" cy="411.63" r="1.60" fill="#c6082a"/>
<circle cx="98.48" cy="414.34" r="1.60" fill="#c6082a"/>
<circle cx="111.98" cy="402.59" r="1.60" fill="#c6082a"/>
<circle cx="125.48" cy="392.80" r="1.60" fill="#c6082a"/>
<circle cx="138.97" cy="403.64" r="1.60" fill="#c6082a"/>
<circle cx="152.47" cy="417.35" r="1.60" fill="#c6082a"/>
<circle cx="179.46" cy="439.49" r="1.60" fill="#c6082a"/>
<circle cx="206.45" cy="405.00" r="1.60" fill="#c6082a"/>
<circle cx="233.44" cy="389.64" r="1.60" fill="#c6082a"/>
<circle cx="260.44" cy="397.47" r="1.60" fill="#c6082a"/>
<circle cx="287.43" cy="408.46" r="1.60" fill="#c6082a"/>
<circle cx="314.42" cy="398.37" r="1.60" fill="#c6082a"/>
<path d="M44.50,467.80 L49.32,448.52 L54.14,401.39 L58.96,375.78 L63.78,391.45 L68.60,406.05 L73.42,382.71 L78.24,381.05 L84.99,415.99 L91.74,417.50 L98.48,447.17 L111.98,467.80 L125.48,467.80 L138.97,467.80 L152.47,467.80 L179.46,467.80 L206.45,467.80 L233.44,464.64 L260.44,436.32 L280.68,438.58 L314.42,467.80 L348.16,464.04" fill="none" stroke="#2c6299" stroke-width="0.95" stroke-linejoin="round"/>
<rect x="42.90" y="466.20" width="3.20" height="3.20" fill="#0a4280"/>
<rect x="47.72" y="446.92" width="3.20" height="3.20" fill="#0a4280"/>
<rect x="52.54" y="399.79" width="3.20" height="3.20" fill="#0a4280"/>
<rect x="57.36" y="374.18" width="3.20" height="3.20" fill="#0a4280"/>
<rect x="62.18" y="389.85" width="3.20" height="3.20" fill="#0a4280"/>
<rect x="67.00" y="404.45" width="3.20" height="3.20" fill="#0a4280"/>
<rect x="71.82" y="381.11" width="3.20" height="3.20" fill="#0a4280"/>
<rect x="76.64" y="379.45" width="3.20" height="3.20" fill="#0a4280"/>
<rect x="83.39" y="414.39" width="3.20" height="3.20" fill="#0a4280"/>
<rect x="90.14" y="415.90" width="3.20" height="3.20" fill="#0a4280"/>
<rect x="96.88" y="445.57" width="3.20" height="3.20" fill="#0a4280"/>
<rect x="110.38" y="466.20" width="3.20" height="3.20" fill="#0a4280"/>
<rect x="123.88" y="466.20" width="3.20" height="3.20" fill="#0a4280"/>
<rect x="137.37" y="466.20" width="3.20" height="3.20" fill="#0a4280"/>
<rect x="150.87" y="466.20" width="3.20" height="3.20" fill="#0a4280"/>
<rect x="177.86" y="466.20" width="3.20" height="3.20" fill="#0a4280"/>
<rect x="204.85" y="466.20" width="3.20" height="3.20" fill="#0a4280"/>
<rect x="231.84" y="463.04" width="3.20" height="3.20" fill="#0a4280"/>
<rect x="258.84" y="434.72" width="3.20" height="3.20" fill="#0a4280"/>
<rect x="279.08" y="436.98" width="3.20" height="3.20" fill="#0a4280"/>
<rect x="312.82" y="466.20" width="3.20" height="3.20" fill="#0a4280"/>
<rect x="346.56" y="462.44" width="3.20" height="3.20" fill="#0a4280"/>
<path d="M44.50,467.80 L49.32,451.23 L54.14,407.56 L58.96,410.57 L63.78,408.61 L68.60,406.36 L73.42,373.37 L78.24,389.49 L84.99,394.01 L91.74,392.50 L98.48,417.95 L111.98,425.18 L125.48,427.29 L138.97,392.80 L152.47,377.59 L179.46,420.96 L206.45,442.95 L233.44,460.57 L260.44,467.80 L280.68,467.80 L348.16,467.80" fill="none" stroke="#45b3e6" stroke-width="0.95" stroke-linejoin="round"/>
<path d="M44.50,466.00L46.30,469.24L42.70,469.24Z" fill="#199fdf"/>
<path d="M49.32,449.43L51.12,452.67L47.52,452.67Z" fill="#199fdf"/>
<path d="M54.14,405.76L55.94,409.00L52.34,409.00Z" fill="#199fdf"/>
<path d="M58.96,408.77L60.76,412.01L57.16,412.01Z" fill="#199fdf"/>
<path d="M63.78,406.81L65.58,410.05L61.98,410.05Z" fill="#199fdf"/>
<path d="M68.60,404.56L70.40,407.80L66.80,407.80Z" fill="#199fdf"/>
<path d="M73.42,371.57L75.22,374.81L71.62,374.81Z" fill="#199fdf"/>
<path d="M78.24,387.69L80.04,390.93L76.44,390.93Z" fill="#199fdf"/>
<path d="M84.99,392.21L86.79,395.45L83.19,395.45Z" fill="#199fdf"/>
<path d="M91.74,390.70L93.54,393.94L89.94,393.94Z" fill="#199fdf"/>
<path d="M98.48,416.15L100.28,419.39L96.68,419.39Z" fill="#199fdf"/>
<path d="M111.98,423.38L113.78,426.62L110.18,426.62Z" fill="#199fdf"/>
<path d="M125.48,425.49L127.28,428.73L123.68,428.73Z" fill="#199fdf"/>
<path d="M138.97,391.00L140.77,394.24L137.17,394.24Z" fill="#199fdf"/>
<path d="M152.47,375.79L154.27,379.03L150.67,379.03Z" fill="#199fdf"/>
<path d="M179.46,419.16L181.26,422.40L177.66,422.40Z" fill="#199fdf"/>
<path d="M206.45,441.15L208.25,444.39L204.65,444.39Z" fill="#199fdf"/>
<path d="M233.44,458.77L235.24,462.01L231.64,462.01Z" fill="#199fdf"/>
<path d="M260.44,466.00L262.24,469.24L258.64,469.24Z" fill="#199fdf"/>
<path d="M280.68,466.00L282.48,469.24L278.88,469.24Z" fill="#199fdf"/>
<path d="M348.16,466.00L349.96,469.24L346.36,469.24Z" fill="#199fdf"/>
<path d="M44.50,467.80 L49.32,451.84 L54.14,410.87 L58.96,412.98 L63.78,417.65 L68.60,442.80 L73.42,467.80 L78.24,467.80 L84.99,467.80 L91.74,467.80 L98.48,467.80 L111.98,467.80 L125.48,467.80 L138.97,467.80 L152.47,467.80 L179.46,467.80 L206.45,467.80 L233.44,467.80 L260.44,467.80 L287.43,467.80 L314.42,467.80 L341.41,467.80" fill="none" stroke="#774893" stroke-width="0.95" stroke-linejoin="round"/>
<path d="M44.50,469.60L46.30,466.36L42.70,466.36Z" fill="#48126b"/>
<path d="M49.32,453.64L51.12,450.40L47.52,450.40Z" fill="#48126b"/>
<path d="M54.14,412.67L55.94,409.43L52.34,409.43Z" fill="#48126b"/>
<path d="M58.96,414.78L60.76,411.54L57.16,411.54Z" fill="#48126b"/>
<path d="M63.78,419.45L65.58,416.21L61.98,416.21Z" fill="#48126b"/>
<path d="M68.60,444.60L70.40,441.36L66.80,441.36Z" fill="#48126b"/>
<path d="M73.42,469.60L75.22,466.36L71.62,466.36Z" fill="#48126b"/>
<path d="M78.24,469.60L80.04,466.36L76.44,466.36Z" fill="#48126b"/>
<path d="M84.99,469.60L86.79,466.36L83.19,466.36Z" fill="#48126b"/>
<path d="M91.74,469.60L93.54,466.36L89.94,466.36Z" fill="#48126b"/>
<path d="M98.48,469.60L100.28,466.36L96.68,466.36Z" fill="#48126b"/>
<path d="M111.98,469.60L113.78,466.36L110.18,466.36Z" fill="#48126b"/>
<path d="M125.48,469.60L127.28,466.36L123.68,466.36Z" fill="#48126b"/>
<path d="M138.97,469.60L140.77,466.36L137.17,466.36Z" fill="#48126b"/>
<path d="M152.47,469.60L154.27,466.36L150.67,466.36Z" fill="#48126b"/>
<path d="M179.46,469.60L181.26,466.36L177.66,466.36Z" fill="#48126b"/>
<path d="M206.45,469.60L208.25,466.36L204.65,466.36Z" fill="#48126b"/>
<path d="M233.44,469.60L235.24,466.36L231.64,466.36Z" fill="#48126b"/>
<path d="M260.44,469.60L262.24,466.36L258.64,466.36Z" fill="#48126b"/>
<path d="M287.43,469.60L289.23,466.36L285.63,466.36Z" fill="#48126b"/>
<path d="M314.42,469.60L316.22,466.36L312.62,466.36Z" fill="#48126b"/>
<path d="M341.41,469.60L343.21,466.36L339.61,466.36Z" fill="#48126b"/>
<line x1="321.60" y1="350.90" x2="334.20" y2="350.90" stroke="#cc1f3f" stroke-width="0.95"/>
<circle cx="327.90" cy="350.90" r="1.60" fill="#c6082a"/>
<text transform="translate(338.40,352.60) scale(0.92,1)" font-size="7.9" fill="#111" stroke="#111" stroke-width="0.12">1443N</text>
<line x1="321.60" y1="360.45" x2="334.20" y2="360.45" stroke="#2c6299" stroke-width="0.95"/>
<circle cx="327.90" cy="360.45" r="1.60" fill="#0a4280"/>
<text transform="translate(338.40,362.15) scale(0.92,1)" font-size="7.9" fill="#111" stroke="#111" stroke-width="0.12">1453N</text>
<line x1="321.60" y1="370.00" x2="334.20" y2="370.00" stroke="#45b3e6" stroke-width="0.95"/>
<circle cx="327.90" cy="370.00" r="1.60" fill="#199fdf"/>
<text transform="translate(338.40,371.70) scale(0.92,1)" font-size="7.9" fill="#111" stroke="#111" stroke-width="0.12">1457B</text>
<line x1="321.60" y1="379.55" x2="334.20" y2="379.55" stroke="#774893" stroke-width="0.95"/>
<circle cx="327.90" cy="379.55" r="1.60" fill="#48126b"/>
<text transform="translate(338.40,381.25) scale(0.92,1)" font-size="7.9" fill="#111" stroke="#111" stroke-width="0.12">1479N</text>
<line x1="438" y1="343.90" x2="438" y2="475.70" stroke="#333" stroke-width="1.6"/>
<line x1="437.2" y1="475.70" x2="513.6" y2="475.70" stroke="#383838" stroke-width="1.6"/>
<line x1="434.8" y1="463.50" x2="438" y2="463.50" stroke="#1e1e1e" stroke-width="1"/>
<text transform="translate(431.70,466.20) scale(0.94,1)" text-anchor="end" font-size="8.4" fill="#111" stroke="#111" stroke-width="0.12">0.0</text>
<line x1="434.8" y1="440.38" x2="438" y2="440.38" stroke="#1e1e1e" stroke-width="1"/>
<text transform="translate(431.70,443.08) scale(0.94,1)" text-anchor="end" font-size="8.4" fill="#111" stroke="#111" stroke-width="0.12">0.1</text>
<line x1="434.8" y1="417.26" x2="438" y2="417.26" stroke="#1e1e1e" stroke-width="1"/>
<text transform="translate(431.70,419.96) scale(0.94,1)" text-anchor="end" font-size="8.4" fill="#111" stroke="#111" stroke-width="0.12">0.2</text>
<line x1="434.8" y1="394.14" x2="438" y2="394.14" stroke="#1e1e1e" stroke-width="1"/>
<text transform="translate(431.70,396.84) scale(0.94,1)" text-anchor="end" font-size="8.4" fill="#111" stroke="#111" stroke-width="0.12">0.3</text>
<line x1="434.8" y1="371.02" x2="438" y2="371.02" stroke="#1e1e1e" stroke-width="1"/>
<text transform="translate(431.70,373.72) scale(0.94,1)" text-anchor="end" font-size="8.4" fill="#111" stroke="#111" stroke-width="0.12">0.4</text>
<line x1="434.8" y1="347.90" x2="438" y2="347.90" stroke="#1e1e1e" stroke-width="1"/>
<text transform="translate(431.70,350.60) scale(0.94,1)" text-anchor="end" font-size="8.4" fill="#111" stroke="#111" stroke-width="0.12">0.5</text>
<text transform="translate(415.00,427.50) rotate(-90) scale(0.705,1)" font-size="8.9" fill="#111" stroke="#111" stroke-width="0.3">Copies/cell</text>
<line x1="449.20" y1="398.07" x2="449.20" y2="395.30" stroke="#222" stroke-width="1"/>
<circle cx="449.20" cy="396.68" r="1.60" fill="#c6082a"/>
<line x1="446.70" y1="398.07" x2="451.70" y2="398.07" stroke="#222" stroke-width="1.1"/>
<line x1="446.70" y1="395.30" x2="451.70" y2="395.30" stroke="#222" stroke-width="1.1"/>
<line x1="467.00" y1="387.90" x2="467.00" y2="378.42" stroke="#222" stroke-width="1"/>
<rect x="465.40" y="381.67" width="3.20" height="3.20" fill="#0a4280"/>
<line x1="464.50" y1="387.90" x2="469.50" y2="387.90" stroke="#222" stroke-width="1.1"/>
<line x1="464.50" y1="378.42" x2="469.50" y2="378.42" stroke="#222" stroke-width="1.1"/>
<line x1="484.60" y1="465.12" x2="484.60" y2="463.73" stroke="#222" stroke-width="1"/>
<path d="M484.60,462.89L486.13,465.65L483.07,465.65Z" fill="#199fdf"/>
<line x1="482.10" y1="465.12" x2="487.10" y2="465.12" stroke="#222" stroke-width="1.1"/>
<line x1="482.10" y1="463.73" x2="487.10" y2="463.73" stroke="#222" stroke-width="1.1"/>
<line x1="501.90" y1="396.45" x2="501.90" y2="369.63" stroke="#222" stroke-width="1"/>
<path d="M501.90,383.65L503.43,380.89L500.37,380.89Z" fill="#48126b"/>
<line x1="499.40" y1="396.45" x2="504.40" y2="396.45" stroke="#222" stroke-width="1.1"/>
<line x1="499.40" y1="369.63" x2="504.40" y2="369.63" stroke="#222" stroke-width="1.1"/>
<text transform="translate(6.30,513.30)" font-weight="bold" font-size="11" fill="#000" stroke="#000" stroke-width="0.35">D</text>
<text transform="translate(171.60,514.10)" font-size="9.35" fill="#111" stroke="#111" stroke-width="0.12">2.22E12 vg/kg</text>
<line x1="44.5" y1="509.50" x2="44.5" y2="634.70" stroke="#1e1e1e" stroke-width="1.2"/>
<line x1="43.9" y1="634.70" x2="362.0" y2="634.70" stroke="#1e1e1e" stroke-width="1.3"/>
<line x1="41.3" y1="634.70" x2="44.5" y2="634.70" stroke="#1e1e1e" stroke-width="1"/>
<text transform="translate(38.30,637.60) scale(0.92,1)" text-anchor="end" font-size="8.2" fill="#111" stroke="#111" stroke-width="0.12">0</text>
<line x1="41.3" y1="604.58" x2="44.5" y2="604.58" stroke="#1e1e1e" stroke-width="1"/>
<text transform="translate(38.30,607.48) scale(0.92,1)" text-anchor="end" font-size="8.2" fill="#111" stroke="#111" stroke-width="0.12">2</text>
<line x1="41.3" y1="574.46" x2="44.5" y2="574.46" stroke="#1e1e1e" stroke-width="1"/>
<text transform="translate(38.30,577.36) scale(0.92,1)" text-anchor="end" font-size="8.2" fill="#111" stroke="#111" stroke-width="0.12">4</text>
<line x1="41.3" y1="544.34" x2="44.5" y2="544.34" stroke="#1e1e1e" stroke-width="1"/>
<text transform="translate(38.30,547.24) scale(0.92,1)" text-anchor="end" font-size="8.2" fill="#111" stroke="#111" stroke-width="0.12">6</text>
<line x1="41.3" y1="514.22" x2="44.5" y2="514.22" stroke="#1e1e1e" stroke-width="1"/>
<text transform="translate(38.30,517.12) scale(0.92,1)" text-anchor="end" font-size="8.2" fill="#111" stroke="#111" stroke-width="0.12">8</text>
<line x1="44.50" y1="634.70" x2="44.50" y2="637.70" stroke="#1e1e1e" stroke-width="1"/>
<text transform="translate(44.50,646.50) scale(0.94,1)" text-anchor="middle" font-size="8.3" fill="#111" stroke="#111" stroke-width="0.12">0</text>
<line x1="68.60" y1="634.70" x2="68.60" y2="637.70" stroke="#1e1e1e" stroke-width="1"/>
<text transform="translate(68.60,646.50) scale(0.94,1)" text-anchor="middle" font-size="8.3" fill="#111" stroke="#111" stroke-width="0.12">25</text>
<line x1="92.70" y1="634.70" x2="92.70" y2="637.70" stroke="#1e1e1e" stroke-width="1"/>
<text transform="translate(92.70,646.50) scale(0.94,1)" text-anchor="middle" font-size="8.3" fill="#111" stroke="#111" stroke-width="0.12">50</text>
<line x1="116.80" y1="634.70" x2="116.80" y2="637.70" stroke="#1e1e1e" stroke-width="1"/>
<text transform="translate(116.80,646.50) scale(0.94,1)" text-anchor="middle" font-size="8.3" fill="#111" stroke="#111" stroke-width="0.12">75</text>
<line x1="140.90" y1="634.70" x2="140.90" y2="637.70" stroke="#1e1e1e" stroke-width="1"/>
<text transform="translate(140.90,646.50) scale(0.94,1)" text-anchor="middle" font-size="8.3" fill="#111" stroke="#111" stroke-width="0.12">100</text>
<line x1="165.00" y1="634.70" x2="165.00" y2="637.70" stroke="#1e1e1e" stroke-width="1"/>
<text transform="translate(165.00,646.50) scale(0.94,1)" text-anchor="middle" font-size="8.3" fill="#111" stroke="#111" stroke-width="0.12">125</text>
<line x1="189.10" y1="634.70" x2="189.10" y2="637.70" stroke="#1e1e1e" stroke-width="1"/>
<text transform="translate(189.10,646.50) scale(0.94,1)" text-anchor="middle" font-size="8.3" fill="#111" stroke="#111" stroke-width="0.12">150</text>
<line x1="213.20" y1="634.70" x2="213.20" y2="637.70" stroke="#1e1e1e" stroke-width="1"/>
<text transform="translate(213.20,646.50) scale(0.94,1)" text-anchor="middle" font-size="8.3" fill="#111" stroke="#111" stroke-width="0.12">175</text>
<line x1="237.30" y1="634.70" x2="237.30" y2="637.70" stroke="#1e1e1e" stroke-width="1"/>
<text transform="translate(237.30,646.50) scale(0.94,1)" text-anchor="middle" font-size="8.3" fill="#111" stroke="#111" stroke-width="0.12">200</text>
<line x1="261.40" y1="634.70" x2="261.40" y2="637.70" stroke="#1e1e1e" stroke-width="1"/>
<text transform="translate(261.40,646.50) scale(0.94,1)" text-anchor="middle" font-size="8.3" fill="#111" stroke="#111" stroke-width="0.12">225</text>
<line x1="285.50" y1="634.70" x2="285.50" y2="637.70" stroke="#1e1e1e" stroke-width="1"/>
<text transform="translate(285.50,646.50) scale(0.94,1)" text-anchor="middle" font-size="8.3" fill="#111" stroke="#111" stroke-width="0.12">250</text>
<line x1="309.60" y1="634.70" x2="309.60" y2="637.70" stroke="#1e1e1e" stroke-width="1"/>
<text transform="translate(309.60,646.50) scale(0.94,1)" text-anchor="middle" font-size="8.3" fill="#111" stroke="#111" stroke-width="0.12">275</text>
<line x1="333.70" y1="634.70" x2="333.70" y2="637.70" stroke="#1e1e1e" stroke-width="1"/>
<text transform="translate(333.70,646.50) scale(0.94,1)" text-anchor="middle" font-size="8.3" fill="#111" stroke="#111" stroke-width="0.12">300</text>
<line x1="357.80" y1="634.70" x2="357.80" y2="637.70" stroke="#1e1e1e" stroke-width="1"/>
<text transform="translate(357.80,646.50) scale(0.94,1)" text-anchor="middle" font-size="8.3" fill="#111" stroke="#111" stroke-width="0.12">325</text>
<text transform="translate(27.80,604.70) rotate(-90) scale(0.73,1)" font-size="9.1" fill="#111" stroke="#111" stroke-width="0.3">FVIII activity (IU/mL)</text>
<text transform="translate(169.20,659.40) scale(0.686,1)" font-size="9.1" fill="#111" stroke="#111" stroke-width="0.3">Days post AAV delivery</text>
<path d="M44.50,634.70 L49.32,630.03 L54.14,613.62 L58.96,604.73 L63.78,598.56 L68.60,594.94 L73.42,593.74 L84.99,595.24 L98.48,602.92 L111.98,600.51 L125.48,581.24 L138.97,591.93 L152.47,610.45 L179.46,609.40 L206.45,599.76 L233.44,602.62 L260.44,608.50 L287.43,605.63 L314.42,613.62" fill="none" stroke="#cc1f3f" stroke-width="0.95" stroke-linejoin="round"/>
<circle cx="44.50" cy="634.70" r="1.60" fill="#c6082a"/>
<circle cx="49.32" cy="630.03" r="1.60" fill="#c6082a"/>
<circle cx="54.14" cy="613.62" r="1.60" fill="#c6082a"/>
<circle cx="58.96" cy="604.73" r="1.60" fill="#c6082a"/>
<circle cx="63.78" cy="598.56" r="1.60" fill="#c6082a"/>
<circle cx="68.60" cy="594.94" r="1.60" fill="#c6082a"/>
<circle cx="73.42" cy="593.74" r="1.60" fill="#c6082a"/>
<circle cx="84.99" cy="595.24" r="1.60" fill="#c6082a"/>
<circle cx="98.48" cy="602.92" r="1.60" fill="#c6082a"/>
<circle cx="111.98" cy="600.51" r="1.60" fill="#c6082a"/>
<circle cx="125.48" cy="581.24" r="1.60" fill="#c6082a"/>
<circle cx="138.97" cy="591.93" r="1.60" fill="#c6082a"/>
<circle cx="152.47" cy="610.45" r="1.60" fill="#c6082a"/>
<circle cx="179.46" cy="609.40" r="1.60" fill="#c6082a"/>
<circle cx="206.45" cy="599.76" r="1.60" fill="#c6082a"/>
<circle cx="233.44" cy="602.62" r="1.60" fill="#c6082a"/>
<circle cx="260.44" cy="608.50" r="1.60" fill="#c6082a"/>
<circle cx="287.43" cy="605.63" r="1.60" fill="#c6082a"/>
<circle cx="314.42" cy="613.62" r="1.60" fill="#c6082a"/>
<path d="M44.50,634.70 L49.32,630.03 L54.14,613.62 L58.96,608.65 L63.78,602.02 L68.60,604.73 L73.42,601.42 L84.99,598.56 L98.48,611.66 L111.98,620.69 L125.48,618.89 L138.97,630.63 L152.47,634.70 L179.46,634.70 L206.45,634.70 L233.44,634.70 L260.44,634.70 L287.43,634.70 L314.42,634.70 L341.41,634.70" fill="none" stroke="#2c6299" stroke-width="0.95" stroke-linejoin="round"/>
<rect x="42.90" y="633.10" width="3.20" height="3.20" fill="#0a4280"/>
<rect x="47.72" y="628.43" width="3.20" height="3.20" fill="#0a4280"/>
<rect x="52.54" y="612.02" width="3.20" height="3.20" fill="#0a4280"/>
<rect x="57.36" y="607.05" width="3.20" height="3.20" fill="#0a4280"/>
<rect x="62.18" y="600.42" width="3.20" height="3.20" fill="#0a4280"/>
<rect x="67.00" y="603.13" width="3.20" height="3.20" fill="#0a4280"/>
<rect x="71.82" y="599.82" width="3.20" height="3.20" fill="#0a4280"/>
<rect x="83.39" y="596.96" width="3.20" height="3.20" fill="#0a4280"/>
<rect x="96.88" y="610.06" width="3.20" height="3.20" fill="#0a4280"/>
<rect x="110.38" y="619.09" width="3.20" height="3.20" fill="#0a4280"/>
<rect x="123.88" y="617.29" width="3.20" height="3.20" fill="#0a4280"/>
<rect x="137.37" y="629.03" width="3.20" height="3.20" fill="#0a4280"/>
<rect x="150.87" y="633.10" width="3.20" height="3.20" fill="#0a4280"/>
<rect x="177.86" y="633.10" width="3.20" height="3.20" fill="#0a4280"/>
<rect x="204.85" y="633.10" width="3.20" height="3.20" fill="#0a4280"/>
<rect x="231.84" y="633.10" width="3.20" height="3.20" fill="#0a4280"/>
<rect x="258.84" y="633.10" width="3.20" height="3.20" fill="#0a4280"/>
<rect x="285.83" y="633.10" width="3.20" height="3.20" fill="#0a4280"/>
<rect x="312.82" y="633.10" width="3.20" height="3.20" fill="#0a4280"/>
<rect x="339.81" y="633.10" width="3.20" height="3.20" fill="#0a4280"/>
<path d="M44.50,634.70 L49.32,630.94 L54.14,620.54 L58.96,613.31 L63.78,610.30 L68.60,610.60 L73.42,608.35 L78.24,608.35 L84.99,610.30 L91.74,606.69 L98.48,611.66 L111.98,612.11 L125.48,619.94 L138.97,606.54 L152.47,610.45 L179.46,614.52 L206.45,613.01 L233.44,613.01 L260.44,614.82 L280.68,617.68" fill="none" stroke="#45b3e6" stroke-width="0.95" stroke-linejoin="round"/>
<path d="M44.50,632.90L46.30,636.14L42.70,636.14Z" fill="#199fdf"/>
<path d="M49.32,629.14L51.12,632.38L47.52,632.38Z" fill="#199fdf"/>
<path d="M54.14,618.74L55.94,621.98L52.34,621.98Z" fill="#199fdf"/>
<path d="M58.96,611.51L60.76,614.75L57.16,614.75Z" fill="#199fdf"/>
<path d="M63.78,608.50L65.58,611.74L61.98,611.74Z" fill="#199fdf"/>
<path d="M68.60,608.80L70.40,612.04L66.80,612.04Z" fill="#199fdf"/>
<path d="M73.42,606.55L75.22,609.79L71.62,609.79Z" fill="#199fdf"/>
<path d="M78.24,606.55L80.04,609.79L76.44,609.79Z" fill="#199fdf"/>
<path d="M84.99,608.50L86.79,611.74L83.19,611.74Z" fill="#199fdf"/>
<path d="M91.74,604.89L93.54,608.13L89.94,608.13Z" fill="#199fdf"/>
<path d="M98.48,609.86L100.28,613.10L96.68,613.10Z" fill="#199fdf"/>
<path d="M111.98,610.31L113.78,613.55L110.18,613.55Z" fill="#199fdf"/>
<path d="M125.48,618.14L127.28,621.38L123.68,621.38Z" fill="#199fdf"/>
<path d="M138.97,604.74L140.77,607.98L137.17,607.98Z" fill="#199fdf"/>
<path d="M152.47,608.65L154.27,611.89L150.67,611.89Z" fill="#199fdf"/>
<path d="M179.46,612.72L181.26,615.96L177.66,615.96Z" fill="#199fdf"/>
<path d="M206.45,611.21L208.25,614.45L204.65,614.45Z" fill="#199fdf"/>
<path d="M233.44,611.21L235.24,614.45L231.64,614.45Z" fill="#199fdf"/>
<path d="M260.44,613.02L262.24,616.26L258.64,616.26Z" fill="#199fdf"/>
<path d="M280.68,615.88L282.48,619.12L278.88,619.12Z" fill="#199fdf"/>
<path d="M44.50,634.70 L49.32,630.18 L54.14,619.04 L58.96,616.03 L63.78,614.37 L68.60,620.84 L73.42,617.98 L78.24,620.84 L84.99,617.98 L91.74,614.37 L98.48,614.37 L111.98,618.13 L125.48,623.71 L138.97,617.23 L152.47,634.70 L179.46,623.41 L206.45,621.30 L233.44,622.35 L260.44,623.41 L280.68,623.71" fill="none" stroke="#774893" stroke-width="0.95" stroke-linejoin="round"/>
<path d="M44.50,636.50L46.30,633.26L42.70,633.26Z" fill="#48126b"/>
<path d="M49.32,631.98L51.12,628.74L47.52,628.74Z" fill="#48126b"/>
<path d="M54.14,620.84L55.94,617.60L52.34,617.60Z" fill="#48126b"/>
<path d="M58.96,617.83L60.76,614.59L57.16,614.59Z" fill="#48126b"/>
<path d="M63.78,616.17L65.58,612.93L61.98,612.93Z" fill="#48126b"/>
<path d="M68.60,622.64L70.40,619.40L66.80,619.40Z" fill="#48126b"/>
<path d="M73.42,619.78L75.22,616.54L71.62,616.54Z" fill="#48126b"/>
<path d="M78.24,622.64L80.04,619.40L76.44,619.40Z" fill="#48126b"/>
<path d="M84.99,619.78L86.79,616.54L83.19,616.54Z" fill="#48126b"/>
<path d="M91.74,616.17L93.54,612.93L89.94,612.93Z" fill="#48126b"/>
<path d="M98.48,616.17L100.28,612.93L96.68,612.93Z" fill="#48126b"/>
<path d="M111.98,619.93L113.78,616.69L110.18,616.69Z" fill="#48126b"/>
<path d="M125.48,625.51L127.28,622.27L123.68,622.27Z" fill="#48126b"/>
<path d="M138.97,619.03L140.77,615.79L137.17,615.79Z" fill="#48126b"/>
<path d="M152.47,636.50L154.27,633.26L150.67,633.26Z" fill="#48126b"/>
<path d="M179.46,625.21L181.26,621.97L177.66,621.97Z" fill="#48126b"/>
<path d="M206.45,623.10L208.25,619.86L204.65,619.86Z" fill="#48126b"/>
<path d="M233.44,624.15L235.24,620.91L231.64,620.91Z" fill="#48126b"/>
<path d="M260.44,625.21L262.24,621.97L258.64,621.97Z" fill="#48126b"/>
<path d="M280.68,625.51L282.48,622.27L278.88,622.27Z" fill="#48126b"/>
<line x1="321.20" y1="517.90" x2="333.80" y2="517.90" stroke="#cc1f3f" stroke-width="0.95"/>
<circle cx="327.50" cy="517.90" r="1.60" fill="#c6082a"/>
<text transform="translate(338.40,519.60) scale(0.92,1)" font-size="7.9" fill="#111" stroke="#111" stroke-width="0.12">1427L</text>
<line x1="321.20" y1="527.45" x2="333.80" y2="527.45" stroke="#2c6299" stroke-width="0.95"/>
<rect x="325.90" y="525.85" width="3.20" height="3.20" fill="#0a4280"/>
<text transform="translate(338.40,529.15) scale(0.92,1)" font-size="7.9" fill="#111" stroke="#111" stroke-width="0.12">1437N</text>
<line x1="321.20" y1="537.00" x2="333.80" y2="537.00" stroke="#45b3e6" stroke-width="0.95"/>
<path d="M327.50,535.20L329.30,538.44L325.70,538.44Z" fill="#199fdf"/>
<text transform="translate(338.40,538.70) scale(0.92,1)" font-size="7.9" fill="#111" stroke="#111" stroke-width="0.12">1455L</text>
<line x1="321.20" y1="546.55" x2="333.80" y2="546.55" stroke="#774893" stroke-width="0.95"/>
<path d="M327.50,548.35L329.30,545.11L325.70,545.11Z" fill="#48126b"/>
<text transform="translate(338.40,548.25) scale(0.92,1)" font-size="7.9" fill="#111" stroke="#111" stroke-width="0.12">1463N</text>
<line x1="438" y1="511.40" x2="438" y2="642.00" stroke="#333" stroke-width="1.6"/>
<line x1="437.2" y1="642.00" x2="513.6" y2="642.00" stroke="#383838" stroke-width="1.6"/>
<line x1="434.8" y1="641.60" x2="438" y2="641.60" stroke="#1e1e1e" stroke-width="1"/>
<text transform="translate(431.70,644.30) scale(0.94,1)" text-anchor="end" font-size="8.4" fill="#111" stroke="#111" stroke-width="0.12">0.00</text>
<line x1="434.8" y1="599.60" x2="438" y2="599.60" stroke="#1e1e1e" stroke-width="1"/>
<text transform="translate(431.70,602.30) scale(0.94,1)" text-anchor="end" font-size="8.4" fill="#111" stroke="#111" stroke-width="0.12">0.05</text>
<line x1="434.8" y1="557.60" x2="438" y2="557.60" stroke="#1e1e1e" stroke-width="1"/>
<text transform="translate(431.70,560.30) scale(0.94,1)" text-anchor="end" font-size="8.4" fill="#111" stroke="#111" stroke-width="0.12">0.10</text>
<line x1="434.8" y1="515.60" x2="438" y2="515.60" stroke="#1e1e1e" stroke-width="1"/>
<text transform="translate(431.70,518.30) scale(0.94,1)" text-anchor="end" font-size="8.4" fill="#111" stroke="#111" stroke-width="0.12">0.15</text>
<text transform="translate(411.80,594.50) rotate(-90) scale(0.705,1)" font-size="8.9" fill="#111" stroke="#111" stroke-width="0.3">Copies/cell</text>
<line x1="449.20" y1="568.10" x2="449.20" y2="547.10" stroke="#222" stroke-width="1"/>
<circle cx="449.20" cy="557.60" r="1.60" fill="#c6082a"/>
<line x1="446.70" y1="568.10" x2="451.70" y2="568.10" stroke="#222" stroke-width="1.1"/>
<line x1="446.70" y1="547.10" x2="451.70" y2="547.10" stroke="#222" stroke-width="1.1"/>
<line x1="467.00" y1="568.35" x2="467.00" y2="564.32" stroke="#222" stroke-width="1"/>
<rect x="465.40" y="564.74" width="3.20" height="3.20" fill="#0a4280"/>
<line x1="464.50" y1="568.35" x2="469.50" y2="568.35" stroke="#222" stroke-width="1.1"/>
<line x1="464.50" y1="564.32" x2="469.50" y2="564.32" stroke="#222" stroke-width="1.1"/>
<line x1="484.60" y1="591.20" x2="484.60" y2="574.40" stroke="#222" stroke-width="1"/>
<path d="M484.60,582.11L486.13,584.86L483.07,584.86Z" fill="#199fdf"/>
<line x1="482.10" y1="591.20" x2="487.10" y2="591.20" stroke="#222" stroke-width="1.1"/>
<line x1="482.10" y1="574.40" x2="487.10" y2="574.40" stroke="#222" stroke-width="1.1"/>
<line x1="502.20" y1="627.32" x2="502.20" y2="623.29" stroke="#222" stroke-width="1"/>
<path d="M502.20,626.83L503.73,624.08L500.67,624.08Z" fill="#48126b"/>
<line x1="499.70" y1="627.32" x2="504.70" y2="627.32" stroke="#222" stroke-width="1.1"/>
<line x1="499.70" y1="623.29" x2="504.70" y2="623.29" stroke="#222" stroke-width="1.1"/>
<rect x="0.5" y="0.5" width="519" height="665" fill="none" stroke="#000" stroke-width="1.2"/>
</svg>
</body></html>
